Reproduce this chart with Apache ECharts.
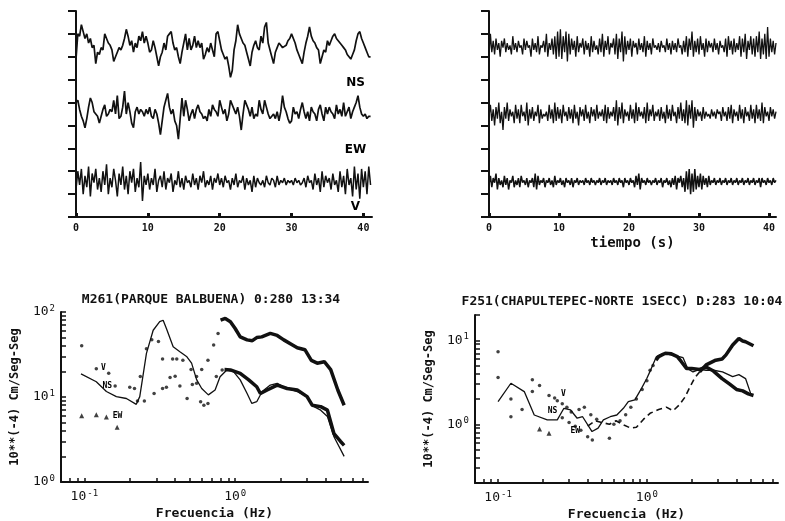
<!DOCTYPE html>
<html>
<head>
<meta charset="utf-8">
<script src="https://cdn.jsdelivr.net/npm/echarts@6/dist/echarts.min.js"></script>
<style>
  html, body { margin: 0; padding: 0; background: #fff; }
  #chart { width: 785px; height: 521px; }
</style>
</head>
<body>
<div id="chart"></div>
<script>
// sampling step of the traces (s)
const dtLeft = 0.25
const dtRight = 0.2

// top left station, trace values in panel units (0..90)
const nsLeft = [
  69, 80, 79, 84, 81, 78, 80, 76, 78, 74, 75, 67, 72, 71, 74, 73, 80, 78, 76, 75, 73, 68, 70, 72, 74, 73, 75, 78, 82, 79, 75, 77, 72, 76, 74, 79, 77, 81, 76, 79,
  76, 72, 73, 77, 74, 70, 66, 70, 72, 76, 73, 79, 80, 81, 76, 73, 74, 70, 67, 72, 76, 80, 73, 78, 73, 75, 79, 74, 77, 74, 76, 69, 71, 74, 72, 76, 73, 70, 80, 81,
  77, 73, 71, 69, 70, 66, 61, 64, 73, 77, 84, 80, 78, 76, 75, 72, 69, 66, 72, 75, 77, 74, 73, 79, 76, 83, 85, 76, 73, 70, 67, 72, 74, 76, 75, 74, 74, 75, 77, 78,
  80, 80, 76, 73, 71, 69, 67, 72, 76, 79, 83, 79, 77, 76, 74, 73, 67, 70, 73, 72, 77, 75, 77, 79, 80, 78, 77, 76, 75, 74, 73, 71, 70, 69, 71, 73, 77, 80, 81, 78,
  76, 74, 72, 70, 70
]
const ewLeft = [
  50, 51, 47, 44, 42, 39, 43, 48, 52, 50, 46, 45, 44, 41, 44, 47, 49, 44, 45, 47, 46, 51, 45, 53, 43, 44, 48, 55, 45, 50, 46, 41, 39, 46, 48, 45, 47, 46, 44, 47,
  45, 48, 44, 43, 47, 45, 41, 36, 42, 48, 51, 54, 48, 45, 47, 42, 40, 34, 43, 52, 44, 51, 47, 42, 45, 47, 43, 47, 49, 46, 45, 43, 44, 42, 47, 44, 49, 47, 46, 44,
  51, 48, 45, 47, 42, 45, 51, 49, 47, 45, 48, 44, 38, 45, 51, 49, 47, 44, 48, 43, 45, 44, 51, 47, 45, 51, 48, 45, 43, 44, 45, 43, 46, 42, 46, 53, 48, 46, 43, 41,
  42, 48, 45, 46, 43, 47, 50, 46, 43, 46, 42, 48, 46, 45, 42, 47, 49, 45, 42, 48, 45, 48, 46, 45, 43, 49, 45, 47, 44, 50, 44, 46, 48, 43, 46, 48, 50, 53, 48, 45,
  44, 45, 43, 44, 44
]
const vLeft = [
  12, 20, 14, 21, 10, 18, 13, 22, 9, 19, 15, 21, 12, 17, 11, 20, 14, 23, 10, 17, 13, 21, 16, 9, 19, 14, 22, 12, 18, 10, 20, 15, 21, 11, 17, 13, 24, 7, 18, 14,
  19, 12, 17, 14, 21, 11, 16, 18, 13, 20, 12, 17, 15, 19, 11, 16, 14, 20, 13, 17, 12, 18, 15, 16, 13, 19, 14, 17, 12, 18, 15, 20, 13, 16, 14, 18, 12, 17, 15, 19,
  14, 17, 13, 18, 15, 16, 12, 17, 14, 19, 13, 16, 15, 18, 12, 17, 14, 16, 11, 18, 13, 17, 15, 14, 16, 13, 18, 15, 14, 17, 16, 13, 18, 14, 16, 15, 17, 14, 16, 15,
  16, 14, 17, 15, 16, 14, 15, 17, 13, 18, 15, 16, 12, 19, 14, 17, 11, 20, 13, 18, 15, 17, 12, 19, 14, 16, 11, 20, 13, 18, 10, 21, 14, 17, 9, 22, 12, 19, 8, 21,
  13, 20, 10, 22, 14
]

// top right station
const nsRight = [
  70, 80, 72, 77, 71, 78, 73, 76, 70, 77, 74, 78, 72, 76, 73, 75, 71, 79, 73, 76,
  72, 77, 74, 75, 71, 78, 73, 77, 74, 75, 70, 78, 73, 76, 72, 79, 71, 75, 74, 77,
  72, 80, 70, 76, 73, 78, 71, 79, 69, 81, 70, 82, 69, 79, 72, 81, 68, 80, 71, 78,
  73, 77, 70, 79, 72, 76, 74, 78, 71, 77, 73, 76, 70, 79, 72, 77, 73, 75, 71, 78,
  72, 80, 70, 77, 73, 79, 71, 76, 74, 78, 71, 80, 69, 78, 72, 81, 68, 79, 71, 77,
  73, 78, 70, 77, 74, 76, 71, 78, 73, 76, 72, 79, 70, 77, 73, 76, 71, 78, 74, 75,
  73, 76, 72, 77, 74, 75, 72, 78, 73, 76, 71, 77, 73, 76, 72, 78, 74, 75, 71, 77,
  72, 79, 70, 78, 73, 81, 70, 77, 72, 78, 71, 79, 73, 76, 70, 78, 72, 77, 74, 76,
  72, 78, 73, 76, 71, 77, 74, 75, 72, 78, 70, 79, 73, 77, 71, 78, 72, 76, 73, 79,
  70, 78, 72, 80, 69, 77, 73, 79, 71, 78, 70, 79, 72, 81, 69, 78, 71, 80, 69, 83,
  70, 78, 72, 77, 71, 76
]
const ewRight = [
  44, 49, 42, 47, 40, 48, 43, 50, 41, 46, 38, 48, 43, 50, 42, 47, 44, 46, 41, 49,
  43, 47, 41, 49, 44, 46, 42, 50, 40, 47, 43, 48, 42, 46, 44, 49, 41, 47, 43, 45,
  44, 46, 42, 49, 43, 47, 41, 50, 42, 48, 43, 47, 41, 49, 44, 46, 42, 48, 43, 47,
  41, 49, 43, 46, 40, 48, 44, 47, 42, 49, 43, 46, 41, 48, 44, 47, 42, 49, 43, 46,
  44, 47, 42, 49, 41, 48, 43, 46, 44, 48, 42, 51, 40, 48, 43, 50, 41, 47, 44, 46,
  42, 49, 43, 47, 41, 50, 42, 48, 44, 46, 43, 48, 41, 50, 42, 47, 44, 49, 42, 46,
  44, 47, 42, 48, 43, 46, 41, 49, 43, 47, 42, 49, 44, 46, 41, 48, 43, 50, 42, 47,
  41, 51, 40, 49, 43, 51, 39, 48, 42, 47, 44, 46, 42, 48, 43, 46, 44, 45, 43, 47,
  44, 46, 43, 47, 45, 46, 42, 48, 44, 46, 42, 48, 43, 49, 41, 47, 44, 46, 42, 49,
  43, 47, 41, 48, 44, 46, 42, 49, 43, 47, 41, 49, 43, 47, 42, 50, 41, 48, 44, 46,
  42, 48, 44, 47, 43, 46
]
const vRight = [
  14, 18, 13, 17, 15, 19, 12, 17, 14, 16, 13, 18, 14, 17, 12, 16, 15, 18, 13, 16,
  14, 17, 13, 18, 15, 16, 14, 17, 13, 16, 15, 17, 13, 19, 12, 18, 14, 16, 15, 17,
  13, 16, 15, 17, 14, 16, 13, 18, 14, 16, 15, 17, 14, 16, 13, 17, 15, 16, 14, 17,
  13, 16, 15, 17, 14, 16, 15, 16, 14, 17, 15, 16, 14, 17, 15, 16, 14, 16, 15, 17,
  14, 16, 15, 17, 14, 16, 15, 16, 14, 17, 15, 16, 14, 17, 15, 16, 13, 17, 15, 16,
  14, 17, 15, 16, 13, 18, 14, 19, 12, 17, 15, 16, 14, 17, 15, 16, 14, 16, 15, 17,
  14, 16, 15, 17, 13, 16, 15, 17, 14, 16, 13, 17, 14, 18, 12, 17, 15, 18, 13, 17,
  11, 20, 12, 21, 10, 19, 11, 21, 12, 18, 13, 19, 12, 18, 14, 17, 13, 18, 14, 16,
  15, 17, 14, 16, 15, 17, 14, 16, 15, 17, 14, 16, 15, 17, 14, 16, 15, 17, 14, 16,
  15, 17, 14, 16, 15, 17, 14, 16, 15, 17, 14, 16, 15, 17, 13, 17, 15, 16, 14, 17,
  15, 16, 14, 17, 15, 16
]
const timeTicks = [0, 10, 20, 30, 40]

// spectra, [frequency Hz, amplitude 10**(-4) cm/s/s]
const nsSpecLeft = [
  [0.095, 18.7], [0.12, 15.1], [0.14, 11.6], [0.163, 10.1], [0.19, 9.6], [0.221, 8.2], [0.233, 10.1], [0.258, 32.6],
  [0.286, 61], [0.316, 77], [0.333, 80], [0.35, 64], [0.388, 39], [0.43, 34], [0.476, 30], [0.514, 25], [0.555, 16],
  [0.6, 12.6], [0.664, 10.6], [0.736, 12.1], [0.794, 17.3], [0.88, 20.8], [0.975, 19.9], [1.08, 15.9], [1.2, 11],
  [1.29, 8.4], [1.39, 8.8], [1.51, 11.6], [1.71, 13.8], [1.9, 14.5], [2.21, 12.6], [2.58, 11.6], [3.0, 10.1],
  [3.33, 7.7], [3.69, 7.0], [4.09, 5.9], [4.52, 3.4], [5.28, 2.0]
]
const ewTriLeft = [[0.096, 6.0], [0.12, 6.2], [0.14, 5.8], [0.165, 4.4]]
const ewDotsLeft = [
  [0.215, 12.6], [0.235, 17.4], [0.258, 37], [0.28, 47], [0.31, 45], [0.33, 28], [0.385, 28], [0.41, 28],
  [0.45, 27], [0.51, 21], [0.555, 14.5], [0.59, 8.8], [0.62, 8.0], [0.66, 8.4], [0.75, 17.4], [0.82, 20.8]
]
const ewThickLeft = [
  [0.85, 21], [0.93, 20.8], [1.08, 19], [1.23, 15.9], [1.39, 13.2], [1.47, 11], [1.63, 12.1], [1.9, 13.8],
  [2.21, 12.6], [2.58, 12.1], [3.0, 10.1], [3.24, 8.0], [3.69, 7.7], [4.09, 7.0], [4.52, 3.7], [5.0, 3.0], [5.28, 2.7]
]
const vDotsLeft = [
  [0.096, 40], [0.12, 21.5], [0.145, 19], [0.16, 13.5], [0.2, 13], [0.225, 9], [0.25, 9], [0.29, 11], [0.33, 12.6],
  [0.35, 13], [0.37, 17], [0.4, 17.5], [0.43, 13.5], [0.48, 9.6], [0.52, 14], [0.555, 17.4], [0.6, 21], [0.66, 27],
  [0.72, 41], [0.77, 56]
]
const vThickLeft = [
  [0.8, 80], [0.86, 84], [0.93, 77], [1.0, 64], [1.08, 51], [1.2, 47], [1.3, 46], [1.39, 50], [1.5, 51], [1.71, 56],
  [1.9, 53], [2.1, 47], [2.4, 41], [2.58, 38], [2.9, 36], [3.2, 27], [3.5, 25], [3.9, 26], [4.3, 21], [4.8, 12], [5.28, 8.0]
]
const nsSpecRight = [
  [0.1, 1.86], [0.122, 3.08], [0.15, 2.45], [0.175, 1.29], [0.214, 1.13], [0.25, 1.13], [0.277, 1.55], [0.307, 1.48],
  [0.34, 1.18], [0.37, 1.23], [0.428, 0.82], [0.47, 0.9], [0.51, 1.13], [0.567, 1.23], [0.628, 1.29], [0.695, 1.55],
  [0.75, 1.86], [0.83, 1.95], [0.92, 2.68], [1.0, 3.53], [1.07, 4.6], [1.16, 6.4], [1.28, 7.0], [1.4, 6.8], [1.58, 6.5],
  [1.75, 6.2], [1.88, 4.6], [2.04, 4.2], [2.26, 4.5], [2.5, 4.4], [2.8, 4.4], [3.22, 4.2], [3.77, 3.7], [4.15, 3.9],
  [4.6, 3.5], [4.99, 2.3]
]
const ewTriRight = [[0.19, 0.88], [0.22, 0.78]]
const ewDotsRight = [
  [0.1, 3.6], [0.122, 2.0], [0.122, 1.23], [0.145, 1.5], [0.27, 1.2], [0.3, 1.05], [0.33, 0.95], [0.36, 0.85],
  [0.4, 0.71], [0.43, 0.65], [0.56, 0.68], [0.6, 1.0], [0.66, 1.1], [0.72, 1.3], [0.78, 1.6], [0.85, 2.0], [0.93, 2.6],
  [1.0, 3.3], [1.05, 4.4], [1.1, 5.0]
]
const ewThickRight = [
  [1.15, 5.8], [1.2, 6.4], [1.33, 7.0], [1.46, 6.9], [1.6, 6.4], [1.7, 5.6], [1.85, 4.6], [2.0, 4.6], [2.26, 4.5],
  [2.5, 4.8], [2.8, 4.3], [3.2, 3.5], [3.6, 3.0], [4.0, 2.6], [4.4, 2.5], [4.8, 2.3], [5.2, 2.2]
]
const vDotsRight = [
  [0.1, 7.3], [0.17, 3.4], [0.17, 2.45], [0.19, 2.9], [0.22, 2.2], [0.24, 2.05], [0.25, 1.9], [0.27, 1.75],
  [0.29, 1.6], [0.31, 1.4], [0.35, 1.5], [0.38, 1.6], [0.42, 1.3], [0.46, 1.15]
]
const vDashRight = [
  [0.4, 0.95], [0.45, 1.1], [0.5, 1.05], [0.56, 1.0], [0.62, 1.1], [0.7, 0.98], [0.78, 0.9], [0.85, 0.92], [0.95, 1.15],
  [1.05, 1.35], [1.2, 1.5], [1.35, 1.6], [1.5, 1.45], [1.65, 1.7], [1.8, 2.1], [1.95, 2.8], [2.1, 3.6], [2.26, 4.2]
]
const vThickRight = [
  [2.26, 4.2], [2.5, 5.1], [2.9, 5.8], [3.2, 6.0], [3.4, 6.7], [3.77, 8.8], [4.15, 10.5], [4.4, 9.8], [4.6, 9.6], [5.2, 8.6]
]

const freqTicks = [0.07, 0.08, 0.09, 0.1, 0.2, 0.3, 0.4, 0.5, 0.6, 0.7, 0.8, 0.9, 1, 2, 3, 4, 5, 6, 7]
const freqLabels = [0.1, 1]
const ampTicksLeft = [1, 2, 3, 4, 5, 6, 7, 8, 9, 10, 20, 30, 40, 50, 60, 70, 80, 90, 100]
const ampLabelsLeft = [1, 10, 100]
const ampTicksRight = [0.2, 0.3, 0.4, 0.5, 0.6, 0.7, 0.8, 0.9, 1, 2, 3, 4, 5, 6, 7, 8, 9, 10, 20]
const ampLabelsRight = [1, 10]

// inline component names [text, x, y] in each panel's data units
const traceNames = [['NS', 38.9, 58.5], ['EW', 38.9, 29.3], ['V', 38.9, 4.4]]
const specNamesLeft = [['V', 0.134, 22], ['NS', 0.142, 13.5], ['EW', 0.166, 6.0]]
const specNamesRight = [['V', 0.275, 2.3], ['NS', 0.232, 1.45], ['EW', 0.33, 0.83]]

const titleLeft = 'M261(PARQUE BALBUENA) 0:280 13:34'
const titleRight = 'F251(CHAPULTEPEC-NORTE 1SECC) D:283 10:04'

const ink = '#111'
const mono = 'DejaVu Sans Mono'

function trace (values, dt, gi, width) {
  return {
    type: 'line',
    xAxisIndex: gi,
    yAxisIndex: gi,
    data: values.map((v, i) => [Math.round(i * dt * 100) / 100, v]),
    symbol: 'none',
    lineStyle: { width: width, color: ink },
    silent: true
  }
}

function curve (points, gi, width, type) {
  return {
    type: 'line',
    xAxisIndex: gi,
    yAxisIndex: gi,
    data: points,
    symbol: 'none',
    lineStyle: { width: width, color: ink, type: type || 'solid' },
    silent: true
  }
}

function dots (points, gi, symbol, size) {
  return {
    type: 'scatter',
    xAxisIndex: gi,
    yAxisIndex: gi,
    data: points,
    symbol: symbol,
    symbolSize: size,
    itemStyle: { color: ink },
    silent: true
  }
}

function names (items, gi, size, family) {
  return {
    type: 'scatter',
    xAxisIndex: gi,
    yAxisIndex: gi,
    symbolSize: 1,
    itemStyle: { color: '#fff', opacity: 1 },
    data: items.map(d => ({ value: [d[1], d[2]], name: d[0] })),
    label: {
      show: true,
      position: 'inside',
      formatter: '{b}',
      color: '#000',
      opacity: 1,
      textBorderWidth: 0,
      fontSize: size,
      fontFamily: family,
      fontWeight: 'bold'
    },
    silent: true
  }
}

const powLabel = v => '{b|10}{s|' + Math.round(Math.log10(v)) + '}'
const powRich = {
  b: { fontSize: 13, fontFamily: mono, color: ink },
  s: { fontSize: 9, fontFamily: mono, color: ink, padding: [0, 0, 7, 1] }
}
const axisLine = { show: true, onZero: false, lineStyle: { color: ink, width: 2 } }

function timeAxis (gi, max, name) {
  return {
    gridIndex: gi,
    type: 'value',
    min: 0,
    max: max,
    axisLine: axisLine,
    axisTick: { inside: true, length: 4, lineStyle: { color: ink, width: 3 }, customValues: timeTicks },
    axisLabel: { customValues: timeTicks, color: ink, fontSize: 10, fontFamily: mono, fontWeight: 'bold', margin: 6 },
    splitLine: { show: false },
    name: name,
    nameLocation: 'middle',
    nameGap: 19,
    nameMoveOverlap: false,
    nameTextStyle: { color: ink, fontSize: 14, fontFamily: mono, fontWeight: 'bold' }
  }
}

function levelAxis (gi) {
  return {
    gridIndex: gi,
    type: 'value',
    min: 0,
    max: 90,
    interval: 10,
    axisLine: axisLine,
    axisTick: { inside: false, length: 8, lineStyle: { color: ink, width: 2 } },
    axisLabel: { show: false },
    splitLine: { show: false }
  }
}

function freqAxis (gi) {
  return {
    gridIndex: gi,
    type: 'log',
    logBase: 10,
    min: 0.07,
    max: 7.6,
    axisLine: axisLine,
    axisTick: { inside: true, length: 4, lineStyle: { color: ink, width: 1.5 }, customValues: freqTicks },
    minorTick: { show: false },
    axisLabel: { customValues: freqLabels, formatter: powLabel, rich: powRich, margin: 7 },
    splitLine: { show: false },
    name: 'Frecuencia (Hz)',
    nameLocation: 'middle',
    nameGap: 25,
    nameMoveOverlap: false,
    nameTextStyle: { color: ink, fontSize: 13, fontFamily: mono, fontWeight: 'bold' }
  }
}

function ampAxis (gi, min, max, ticks, labels) {
  return {
    gridIndex: gi,
    type: 'log',
    logBase: 10,
    min: min,
    max: max,
    axisLine: axisLine,
    axisTick: { inside: true, length: 5, lineStyle: { color: ink, width: 1.5 }, customValues: ticks },
    minorTick: { show: false },
    axisLabel: { customValues: labels, formatter: powLabel, rich: powRich, margin: 6 },
    splitLine: { show: false },
    name: '10**(-4) Cm/Seg-Seg',
    nameLocation: 'middle',
    nameRotate: 90,
    nameGap: 40,
    nameMoveOverlap: false,
    nameTextStyle: { color: ink, fontSize: 12, fontFamily: mono, fontWeight: 'bold' }
  }
}

function titleText (text, x, y) {
  return {
    type: 'text',
    x: x,
    y: y,
    silent: true,
    style: {
      text: text,
      fontSize: 13,
      fontFamily: mono,
      fontWeight: 'bold',
      fill: ink,
      align: 'center',
      verticalAlign: 'middle',
      textAlign: 'center',
      textVerticalAlign: 'middle'
    }
  }
}

const option = {
  animation: false,
  backgroundColor: '#fff',
  textStyle: { fontFamily: mono, color: ink },
  grid: [
    { left: 76, top: 11, width: 296, height: 206, containLabel: false, outerBoundsMode: 'none' },
    { left: 489, top: 11, width: 287, height: 206, containLabel: false, outerBoundsMode: 'none' },
    { left: 61, top: 312, width: 307, height: 170, containLabel: false, outerBoundsMode: 'none' },
    { left: 475, top: 315, width: 303, height: 168, containLabel: false, outerBoundsMode: 'none' }
  ],
  xAxis: [
    timeAxis(0, 41.2, ''),
    timeAxis(1, 41, 'tiempo (s)'),
    freqAxis(2),
    freqAxis(3)
  ],
  yAxis: [
    levelAxis(0),
    levelAxis(1),
    ampAxis(2, 1, 100, ampTicksLeft, ampLabelsLeft),
    ampAxis(3, 0.2, 20, ampTicksRight, ampLabelsRight)
  ],
  graphic: [
    titleText(titleLeft, 211, 300),
    titleText(titleRight, 622, 302)
  ],
  series: [
    trace(nsLeft, dtLeft, 0, 1.7),
    trace(ewLeft, dtLeft, 0, 1.7),
    trace(vLeft, dtLeft, 0, 1.5),
    names(traceNames, 0, 12, 'DejaVu Sans'),
    trace(nsRight, dtRight, 1, 1.3),
    trace(ewRight, dtRight, 1, 1.3),
    trace(vRight, dtRight, 1, 1.5),

    curve(nsSpecLeft, 2, 1.3),
    dots(ewTriLeft, 2, 'triangle', 5),
    dots(ewDotsLeft, 2, 'circle', 3.5),
    curve(ewThickLeft, 2, 3.5),
    dots(vDotsLeft, 2, 'circle', 3.5),
    curve(vThickLeft, 2, 3.5),
    names(specNamesLeft, 2, 8, mono),

    curve(nsSpecRight, 3, 1.3),
    dots(ewTriRight, 3, 'triangle', 5),
    dots(ewDotsRight, 3, 'circle', 3.5),
    curve(ewThickRight, 3, 3.5),
    dots(vDotsRight, 3, 'circle', 3.5),
    curve(vDashRight, 3, 1.6, [6, 4]),
    curve(vThickRight, 3, 3.5),
    names(specNamesRight, 3, 8, mono)
  ]
}

const chart = echarts.init(document.getElementById('chart'), null, { renderer: 'canvas' })
chart.setOption(option)
</script>
</body>
</html>
